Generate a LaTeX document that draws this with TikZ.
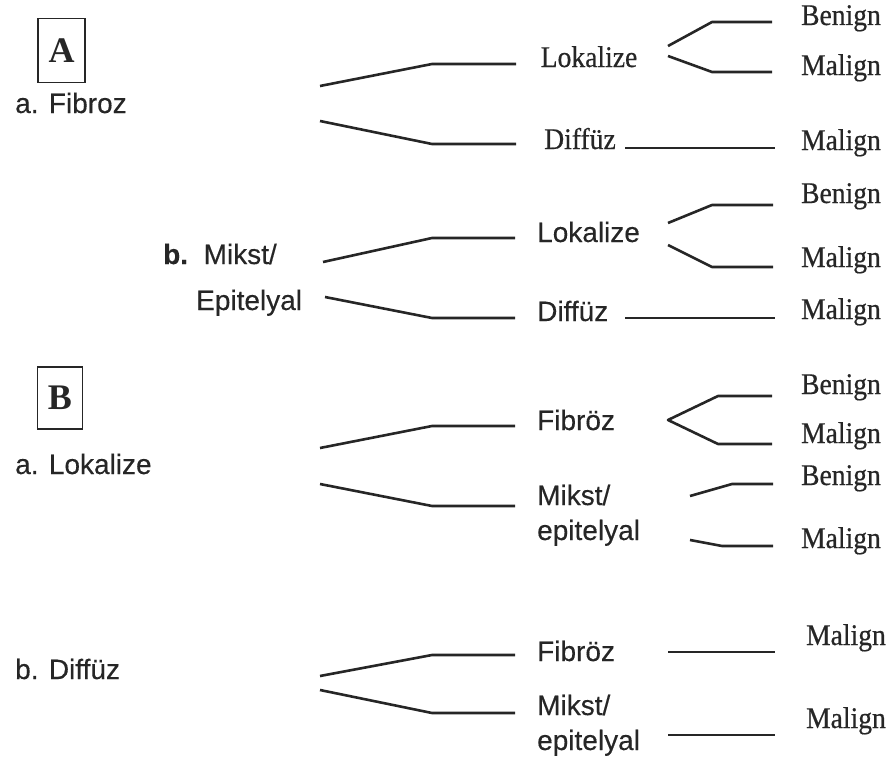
\documentclass[tikz,border=0pt]{standalone}
\usepackage{fontspec}
\setmainfont{Liberation Serif}
\setsansfont{Liberation Sans}
\newfontfamily\scanserif[FakeStretch=0.92,FakeBold=0.5]{Liberation Serif}
\newfontfamily\scansans[FakeBold=0.3]{Liberation Sans}
\definecolor{ink}{HTML}{262626}
\begin{document}
\begin{tikzpicture}[x=1pt,y=-1pt,
  ln/.style={line width=2.6pt, draw=ink, line join=round},
  sans/.style={font=\scansans\fontsize{28}{32}\selectfont, text=ink, inner sep=0pt, anchor=base},
  sansw/.style={sans, anchor=base west},
  serif/.style={font=\scanserif\fontsize{30}{32}\selectfont, text=ink, inner sep=0pt, anchor=base},
  boxlbl/.style={draw=ink, line width=1.8pt, minimum width=47pt, minimum height=64pt, inner sep=0pt, font=\rmfamily\bfseries\fontsize{36}{38}\selectfont, text=ink}]
\useasboundingbox (0,0) rectangle (889,760);

% ---------- A ----------
\node[boxlbl] (boxA) at (61.5,50.5) {A};
\node[sansw] (fa) at (15,113) {a. Fibroz};
\node[serif] (lokA) at (589,67) {Lokalize};
\node[serif] (difA) at (580,149) {Diffüz};
\node[serif] (benA1) at (841,25) {Benign};
\node[serif] (malA1) at (841,75) {Malign};
\node[serif] (malA2) at (841,150) {Malign};

\coordinate (aU) at (320,86);
\coordinate (aL) at (320,121);
\draw[ln] (aU) -- (432,64) -- (516,64);
\draw[ln] (aL) -- (432,144) -- (516,144);
\draw[ln] (668,46) -- (712,22) -- (772,22);
\draw[ln] (668,56) -- (712,72) -- (772,72);
\draw[ln] (625,148) -- (775,148);

% ---------- A.b ----------
\node[sansw] (mb) at (163,264) {\textbf{b.}\ \ Mikst/};
\node[sansw] (ep) at (196,310) {Epitelyal};
\node[sansw] (lokB) at (537,242) {Lokalize};
\node[sansw] (difB) at (537,321) {Diffüz};
\node[serif] (benB1) at (841,203) {Benign};
\node[serif] (malB1) at (841,267) {Malign};
\node[serif] (malB2) at (841,319) {Malign};

\draw[ln] (323,262) -- (432,238) -- (515,238);
\draw[ln] (325,297) -- (432,318) -- (515,318);
\draw[ln] (668,223) -- (712,205) -- (773,205);
\draw[ln] (668,245) -- (712,267) -- (773,267);
\draw[ln] (625,318) -- (775,318);

% ---------- B ----------
\node[boxlbl, minimum width=45pt, minimum height=62pt] (boxB) at (60,398) {B};
\node[sansw] (la) at (15,474) {a. Lokalize};
\node[sansw] (fibC) at (537,430) {Fibröz};
\node[sansw] (mikC1) at (537,505) {Mikst/};
\node[sansw] (mikC2) at (537,540) {epitelyal};
\node[serif] (benC1) at (841,394) {Benign};
\node[serif] (malC1) at (841,443) {Malign};
\node[serif] (benC2) at (841,485) {Benign};
\node[serif] (malC2) at (841,548) {Malign};

\draw[ln] (320,448) -- (432,426) -- (515,426);
\draw[ln] (320,484) -- (432,506) -- (515,506);
\draw[ln] (772,396) -- (718,396) -- (668,420) -- (718,444) -- (772,444);
\draw[ln] (690,496) -- (732,484) -- (773,484);
\draw[ln] (690,540) -- (722,546) -- (773,546);

% ---------- B.b ----------
\node[sansw] (bd) at (15,679) {b. Diffüz};
\node[sansw] (fibD) at (537,661) {Fibröz};
\node[sansw] (mikD1) at (537,715) {Mikst/};
\node[sansw] (mikD2) at (537,750) {epitelyal};
\node[serif] (malD1) at (846,645) {Malign};
\node[serif] (malD2) at (846,728) {Malign};

\draw[ln] (320,676) -- (432,655) -- (515,655);
\draw[ln] (320,690) -- (432,713) -- (515,713);
\draw[ln] (668,652) -- (775,652);
\draw[ln] (668,735) -- (775,735);
\end{tikzpicture}
\end{document}
